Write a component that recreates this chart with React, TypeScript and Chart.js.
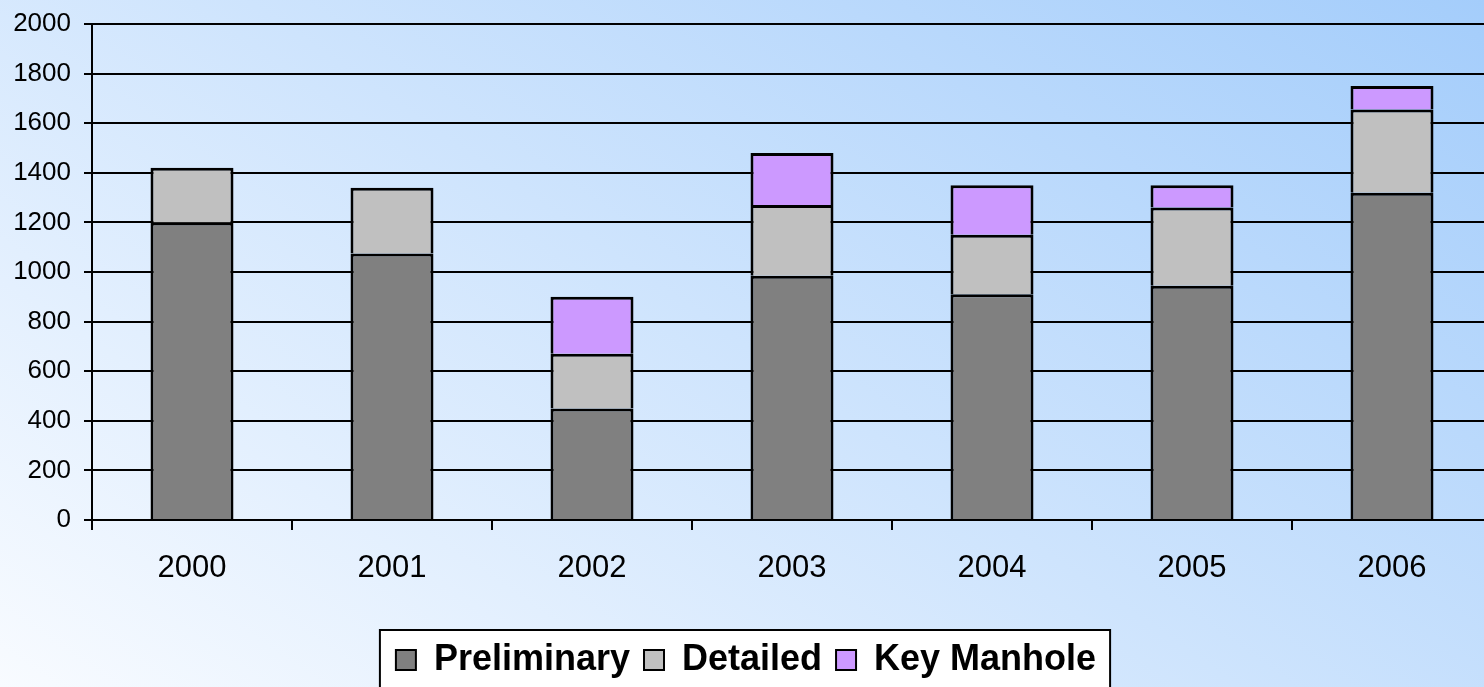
import React, { useEffect, useRef } from "react";
import { Chart, registerables } from "chart.js";

Chart.register(...registerables);

const categories = ["2000", "2001", "2002", "2003", "2004", "2005", "2006"];
const preliminary = [1200, 1075, 450, 985, 910, 945, 1320];
const detailed = [220, 265, 220, 285, 240, 315, 335];
const keyManhole = [null, null, 230, 210, 200, 90, 95];
const seriesNames = ["Preliminary", "Detailed", "Key Manhole"];
const yTicks = { min: 0, max: 2000, step: 200 };

const FONT = "'Liberation Sans', Arial, Helvetica, sans-serif";

const legendFrame = {
  id: "legendFrame",
  beforeDraw(chart: any) {
    const lg = chart.legend;
    if (!lg || !lg.legendHitBoxes || !lg.legendHitBoxes.length) return;
    const boxes = lg.legendHitBoxes;
    const first = boxes[0];
    const last = boxes[boxes.length - 1];
    const left = first.left - 16;
    const right = last.left + last.width + 14;
    const top = first.top - 12;
    const ctx = chart.ctx;
    ctx.save();
    ctx.fillStyle = "#ffffff";
    ctx.fillRect(left, top, right - left, 100);
    ctx.strokeStyle = "#000000";
    ctx.lineWidth = 2;
    ctx.strokeRect(left, top, right - left, 100);
    ctx.restore();
  },
};

export default function App() {
  const ref = useRef<HTMLCanvasElement | null>(null);

  useEffect(() => {
    if (!ref.current) return;
    const chart = new Chart(ref.current, {
      type: "bar",
      data: {
        labels: categories,
        datasets: [
          {
            label: seriesNames[0],
            data: preliminary,
            backgroundColor: "#808080",
            borderColor: "#000000",
            borderWidth: 3,
            borderSkipped: "start",
          },
          {
            label: seriesNames[1],
            data: detailed,
            backgroundColor: "#c0c0c0",
            borderColor: "#000000",
            borderWidth: 3,
            borderSkipped: "start",
          },
          {
            label: seriesNames[2],
            data: keyManhole as any,
            backgroundColor: "#cc99ff",
            borderColor: "#000000",
            borderWidth: 3,
            borderSkipped: "start",
          },
        ],
      },
      options: {
        animation: false,
        responsive: false,
        devicePixelRatio: 1,
        layout: { padding: { top: 24, left: 0, right: 0, bottom: 0 } },
        datasets: {
          bar: { categoryPercentage: 1, barPercentage: 0.415 },
        },
        scales: {
          x: {
            stacked: true,
            grid: {
              offset: true,
              drawOnChartArea: false,
              drawTicks: true,
              tickLength: 10,
              color: "#000000",
              lineWidth: 2,
            },
            border: { display: true, color: "#000000", width: 2 },
            ticks: {
              color: "#000000",
              font: { family: FONT, size: 31 },
              padding: 20,
              maxRotation: 0,
            },
            afterFit(scale: any) {
              scale.height = 108;
            },
          },
          y: {
            stacked: true,
            min: yTicks.min,
            max: yTicks.max,
            grid: {
              color: "#000000",
              lineWidth: 2,
              drawTicks: true,
              tickLength: 8,
            },
            border: { display: true, color: "#000000", width: 2 },
            ticks: {
              stepSize: yTicks.step,
              color: "#000000",
              font: { family: FONT, size: 26 },
              padding: 13,
              callback: (v: any) => String(v),
            },
            afterFit(scale: any) {
              scale.width = 92;
              scale.paddingTop = 0;
              scale.paddingBottom = 0;
            },
          },
        },
        plugins: {
          legend: {
            position: "bottom",
            labels: {
              boxWidth: 20,
              boxHeight: 20,
              padding: 14,
              color: "#000000",
              font: { family: FONT, size: 36, weight: "bold" },
              generateLabels(chart: any) {
                const items = Chart.defaults.plugins.legend.labels.generateLabels(chart);
                return items.map((it: any) => ({ ...it, lineWidth: 2 }));
              },
            },
          },
          tooltip: { enabled: false },
        },
      },
      plugins: [legendFrame],
    } as any);
    return () => chart.destroy();
  }, []);

  return (
    <div
      style={{
        position: "fixed",
        left: 0,
        top: 0,
        width: 1484,
        height: 687,
        overflow: "hidden",
        background: "linear-gradient(34.7deg, #f8fbff 0%, #a4cdfb 100%)",
      }}
    >
      <canvas ref={ref} width={1492} height={688} style={{ display: "block" }} />
    </div>
  );
}
